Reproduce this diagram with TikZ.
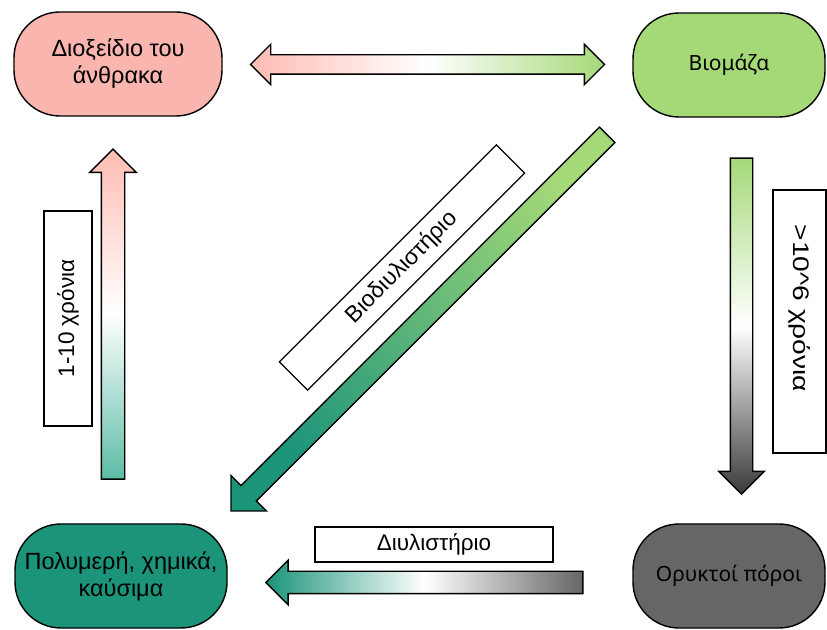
\documentclass[tikz,border=0pt]{standalone}
\usepackage{fontspec}
\setmainfont{Liberation Sans}
\newfontfamily\notofont{Noto Sans}
\usepackage{tikz}
\usetikzlibrary{shapes.arrows,positioning,calc}
\definecolor{co2pink}{RGB}{250,182,174}
\definecolor{arrowpink}{RGB}{255,188,178}
\definecolor{bioGreen}{RGB}{165,217,120}
\definecolor{polyTeal}{RGB}{27,148,122}
\definecolor{lightTeal}{RGB}{92,188,166}
\definecolor{fossilGray}{RGB}{102,102,102}
\definecolor{darkGray}{RGB}{58,58,58}

\begin{document}
\begin{tikzpicture} [
        x = 1pt, y = 1pt,
        font = \fontsize{23.5}{27}\selectfont,
        pool/.style = { draw, line width = 1.4pt, rounded corners = 46pt, minimum height = 104pt, align = center, inner sep = 1pt },
        timebox/.style = { draw, line width = 1.2pt, fill = white, inner sep = 0, font = \fontsize{22.5}{26}\selectfont },
        flow/.style = { draw, line width = 1.4pt, single arrow, inner xsep = 0, text height = 0pt, text depth = 0pt, minimum width = 0pt }
        ]
        \useasboundingbox (0,0) rectangle (827,629);

        \node [pool, fill = co2pink, minimum width = 208pt] (co2) at (118,565) {Διοξείδιο του\\άνθρακα};
        \node [pool, fill = bioGreen, minimum width = 192pt, font = \notofont\fontsize{21}{25}\selectfont] (bio) at (729,564) {Βιομάζα};
        \node [pool, fill = polyTeal, minimum width = 212pt] (poly) at (121,53) {Πολυμερή, χημικά,\\καύσιμα};
        \node [pool, fill = fossilGray, minimum width = 192pt, font = \notofont\fontsize{21}{25}\selectfont] (fossil) at (729,53) {Ορυκτοί πόροι};

        \node [draw, line width = 1.4pt, double arrow, inner xsep = 0, inner ysep = 9pt, text height = 0pt, text depth = 0pt,
            double arrow head extend = 10.5pt, minimum height = 354pt,
            left color = arrowpink, right color = bioGreen, middle color = white] (swap) at ($(co2.east)!0.5!(bio.west)$) {};
        \node [flow, inner ysep = 11pt, single arrow head extend = 11.5pt, minimum height = 330pt, rotate = 90,
            top color = arrowpink, bottom color = lightTeal, middle color = white] (decay) at ([xshift = -6.5pt]$(poly.north)!0.5!(co2.south)$) {};
        \node [flow, inner ysep = 10.5pt, single arrow head extend = 11.5pt, minimum height = 336pt, rotate = -90,
            top color = bioGreen, bottom color = darkGray, middle color = white] (fossilize) at ([xshift = 12.5pt]$(bio.south)!0.5!(fossil.north)$) {};
        \node [flow, inner ysep = 10.5pt, single arrow head extend = 11pt, minimum height = 317pt, rotate = 180,
            left color = polyTeal, right color = fossilGray, middle color = white] (refine) at ([yshift = -6.5pt]$(fossil.west)!0.5!(poly.east)$) {};
        \node [flow, inner ysep = 10.25pt, single arrow head extend = 14pt, minimum height = 532pt, rotate = -135,
            top color = bioGreen, bottom color = polyTeal, shading angle = -45] (biorefine) at ([xshift = -7pt, yshift = 1.5pt]$(bio.south west)!0.5!(poly.north east)$) {};

        \node [timebox, minimum width = 215pt, minimum height = 48pt, rotate = 90] (shortterm) at (68,310.5) {1-10 χρόνια};
        \node [timebox, minimum width = 263pt, minimum height = 53pt, rotate = -90] (longterm) at (799.5,307.5) {\scalebox{1.25}[1]{>10\textasciicircum6 χρόνια}\hspace*{26pt}};
        \node [timebox, minimum width = 238pt, minimum height = 35pt] (refinery) at (434,84.5) {Διυλιστήριο};
        \node [timebox, minimum width = 307pt, minimum height = 40pt, rotate = 45, font = \fontsize{23}{27}\selectfont] (biorefinery) at (402,361.5) {Βιοδιυλιστήριο};
    \end{tikzpicture}
\end{document}
